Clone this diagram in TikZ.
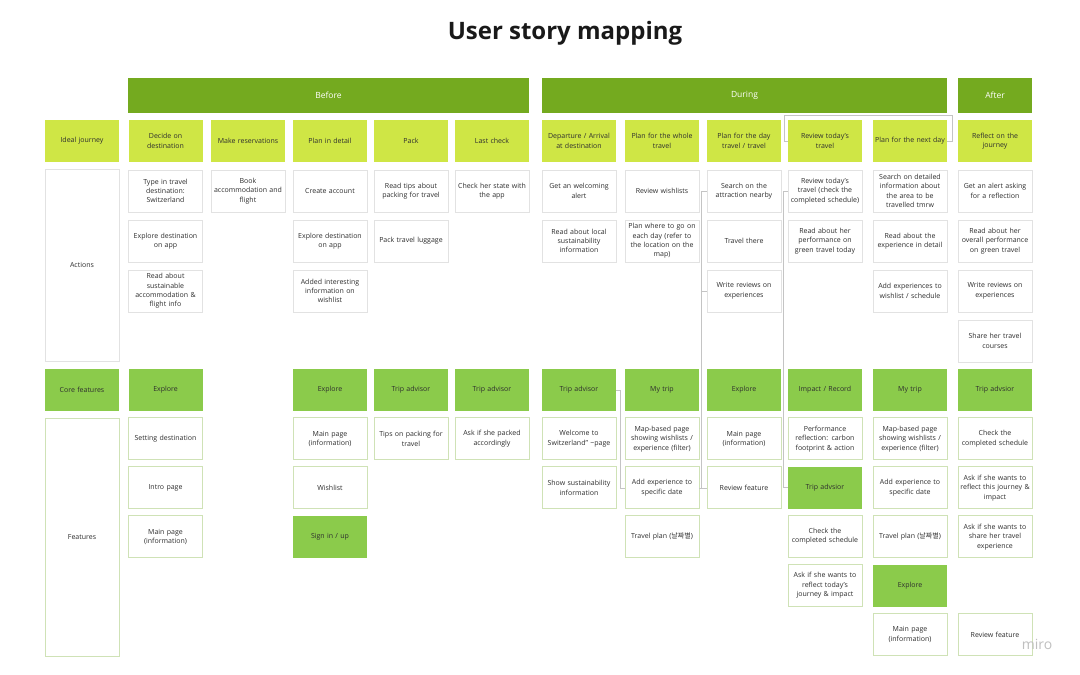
\documentclass[tikz,border=0pt]{standalone}
\usepackage{fontspec}
\setmainfont{Open Sans}
\newfontfamily\krfont{Noto Sans CJK KR}
\usepackage{tikz}
\usetikzlibrary{positioning,calc}
\definecolor{phasegreen}{HTML}{74AA1F}
\definecolor{stepyellow}{HTML}{CFE645}
\definecolor{coregreen}{HTML}{8BCB4B}
\definecolor{cardline}{HTML}{E2E2E2}
\definecolor{featline}{HTML}{CFE2B6}
\definecolor{inkgray}{HTML}{2E2E2E}
\definecolor{linkgray}{HTML}{C4C4C4}

\begin{document}
\begin{tikzpicture}[x=1pt, y=-1pt, font=\fontsize{7}{9.4}\selectfont, node distance=6.2pt,
    box/.style={minimum width=74pt, minimum height=42pt, text width=73pt, align=center, inner sep=0.5pt, text=inkgray},
    phase/.style={fill=phasegreen, minimum height=35pt, inner sep=0pt, text=white, font=\fontsize{8.5}{10}\selectfont},
    stepbox/.style={box, fill=stepyellow},
    card/.style={box, draw=cardline, line width=0.6pt, fill=white, node distance=7.4pt},
    core/.style={box, fill=coregreen},
    feat/.style={box, draw=featline, line width=0.8pt, fill=white},
    link/.style={draw=linkgray, line width=0.6pt}]
  \useasboundingbox (0,0) rectangle (1080,675);

  \node[font=\fontsize{24}{28}\selectfont\bfseries, text=black!90] (title) at (565,33) {User story mapping};

  % phases
  \node[phase, minimum width=401pt] (before) at (328.5,95.5) {Before};
  \node[phase, minimum width=405pt] (during) at (744.5,95.5) {During};
  \node[phase, minimum width=74pt] (after) at (995,95.5) {After};

  % ideal journey
  \node[stepbox] (ideal) at (82,141) {Ideal journey};
  \node[stepbox] (decide) at (165.5,141) {Decide on\\destination};
  \node[stepbox] (reserve) at (248,141) {Make reservations};
  \node[stepbox] (plan) at (330,141) {Plan in detail};
  \node[stepbox] (pack) at (411,141) {Pack};
  \node[stepbox] (check) at (492,141) {Last check};
  \node[stepbox] (depart) at (579,141) {Departure / Arrival\\at destination};
  \node[stepbox] (whole) at (662,141) {Plan for the whole\\travel};
  \node[stepbox] (day) at (744,141) {Plan for the day\\travel / travel};
  \node[stepbox] (review) at (825,141) {Review today's\\travel};
  \node[stepbox] (next) at (910,141) {Plan for the next day};
  \node[stepbox] (reflect) at (995,141) {Reflect on the\\journey};

  % row labels
  \node[card, minimum height=192pt] (actions) at (82,265) {Actions};
  \node[core] (corelbl) at (82,390) {Core features};
  \node[feat, minimum height=238pt] (features) at (82,537) {Features};

  % actions
  \node[card, below=of decide] (typein) {Type in travel\\destination:\\Switzerland};
  \node[card, below=of typein] (exploreapp) {Explore destination\\on app};
  \node[card, below=of exploreapp] (readsust) {Read about\\sustainable\\accommodation \&\\flight info};
  \node[card, below=of reserve] (book) {Book\\accommodation and\\flight};
  \node[card, below=of plan] (account) {Create account};
  \node[card, below=of account] (exploreapp2) {Explore destination\\on app};
  \node[card, below=of exploreapp2] (added) {Added interesting\\information on\\wishlist};
  \node[card, below=of pack] (readtips) {Read tips about\\packing for travel};
  \node[card, below=of readtips] (packlug) {Pack travel luggage};
  \node[card, below=of check] (checkstate) {Check her state with\\the app};
  \node[card, below=of depart] (welcome) {Get an welcoming\\alert};
  \node[card, below=of welcome] (readlocal) {Read about local\\sustainability\\information};
  \node[card, below=of whole] (reviewwish) {Review wishlists};
  \node[card, below=of reviewwish] (planwhere) {Plan where to go on\\each day (refer to\\the location on the\\map)};
  \node[card, below=of day] (search) {Search on the\\attraction nearby};
  \node[card, below=of search] (travelthere) {Travel there};
  \node[card, below=of travelthere] (writerev) {Write reviews on\\experiences};
  \node[card, below=of review] (reviewtoday) {Review today's\\travel (check the\\completed schedule)};
  \node[card, below=of reviewtoday] (readperf) {Read about her\\performance on\\green travel today};
  \node[card, below=of next] (searchinfo) {Search on detailed\\information about\\the area to be\\travelled tmrw};
  \node[card, below=of searchinfo] (readexp) {Read about the\\experience in detail};
  \node[card, below=of readexp] (addexp) {Add experiences to\\wishlist / schedule};
  \node[card, below=of reflect] (alert) {Get an alert asking\\for a reflection};
  \node[card, below=of alert] (readoverall) {Read about her\\overall performance\\on green travel};
  \node[card, below=of readoverall] (writerev2) {Write reviews on\\experiences};
  \node[card, below=of writerev2] (share) {Share her travel\\courses};

  % core features and features
  \node[core] (explore1) at (decide |- corelbl) {Explore};
  \node[feat, below=of explore1] (setdest) {Setting destination};
  \node[feat, below=of setdest] (intro) {Intro page};
  \node[feat, below=of intro] (mainpage1) {Main page\\(information)};

  \node[core] (explore3) at (plan |- corelbl) {Explore};
  \node[feat, below=of explore3] (mainpage3) {Main page\\(information)};
  \node[feat, below=of mainpage3] (wishlist) {Wishlist};
  \node[core, below=of wishlist] (signin) {Sign in / up};

  \node[core] (advisor4) at (pack |- corelbl) {Trip advisor};
  \node[feat, below=of advisor4] (tipspack) {Tips on packing for\\travel};

  \node[core] (advisor5) at (check |- corelbl) {Trip advisor};
  \node[feat, below=of advisor5] (askpacked) {Ask if she packed\\accordingly};

  \node[core] (advisor6) at (depart |- corelbl) {Trip advisor};
  \node[feat, below=of advisor6] (welcomepage) {Welcome to\\Switzerland” \textasciitilde page};
  \node[feat, below=of welcomepage] (showsust) {Show sustainability\\information};

  \node[core] (mytrip7) at (whole |- corelbl) {My trip};
  \node[feat, below=of mytrip7] (mapbased) {Map-based page\\showing wishlists /\\experience (filter)};
  \node[feat, below=of mapbased] (addexpdate) {Add experience to\\specific date};
  \node[feat, below=of addexpdate] (travelplan) {Travel plan ({\krfont 날짜별})};

  \node[core] (explore8) at (day |- corelbl) {Explore};
  \node[feat, below=of explore8] (mainpage8) {Main page\\(information)};
  \node[feat, below=of mainpage8] (reviewfeat) {Review feature};

  \node[core] (impact9) at (review |- corelbl) {Impact / Record};
  \node[feat, below=of impact9] (perfrefl) {Performance\\reflection: carbon\\footprint \& action};
  \node[core, below=of perfrefl] (advisor9) {Trip advsior};
  \node[feat, below=of advisor9] (checksched) {Check the\\completed schedule};
  \node[feat, below=of checksched] (askreflect) {Ask if she wants to\\reflect today's\\journey \& impact};

  \node[core] (mytrip10) at (next |- corelbl) {My trip};
  \node[feat, below=of mytrip10] (mapbased2) {Map-based page\\showing wishlists /\\experience (filter)};
  \node[feat, below=of mapbased2] (addexpdate2) {Add experience to\\specific date};
  \node[feat, below=of addexpdate2] (travelplan2) {Travel plan ({\krfont 날짜별})};
  \node[core, below=of travelplan2] (explore10) {Explore};
  \node[feat, below=of explore10] (mainpage10) {Main page\\(information)};

  \node[core] (advisor11) at (reflect |- corelbl) {Trip advsior};
  \node[feat, below=of advisor11] (checksched2) {Check the\\completed schedule};
  \node[feat, below=of checksched2] (askjourney) {Ask if she wants to\\reflect this journey \&\\impact};
  \node[feat, below=of askjourney] (askshare) {Ask if she wants to\\share her travel\\experience};
  \node[feat] (reviewfeat2) at (reflect |- mainpage10) {Review feature};

  % connectors
  \draw[link] (review.west) -- ++(-4,0) -- ++(0,-26) -| ([xshift=5pt]next.east) -- (next.east);
  \draw[link] (advisor6.east) -- ++(4,0) |- (addexpdate.west);
  \draw[link] (search.west) -- ++(-5,0) |- (reviewfeat.west);
  \draw[link] (writerev.west) -- ++(-5,0);
  \draw[link] (addexpdate.east) -- (reviewfeat.west);
  \draw[link] (reviewtoday.west) -- ++(-4,0) |- (advisor9.west);

  \node[text=black!25, font=\fontsize{14}{16}\selectfont] (miro) at (1037,644) {miro};
\end{tikzpicture}
\end{document}
